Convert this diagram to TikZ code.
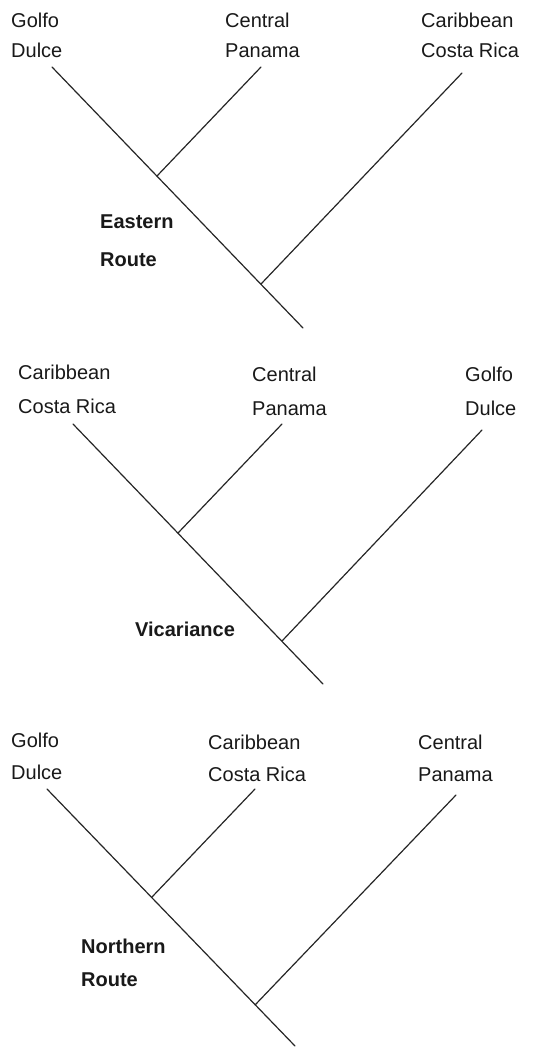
\documentclass[tikz,border=0pt]{standalone}
\usepackage{fontspec}
\setmainfont{Liberation Sans}
\begin{document}
\begin{tikzpicture}[x=1pt,y=-1pt,
  branch/.style={line width=1.2pt, draw=black!85, line cap=round},
  lab/.style={anchor=base west, inner sep=0pt, text=black!90, font=\fontsize{20}{24}\selectfont},
  routelab/.style={lab, font=\bfseries\fontsize{20}{24}\selectfont}]
\useasboundingbox[fill=white] (0,0) rectangle (546,1050);

% ---- Eastern Route ----
\coordinate (t1gd) at (52,67);
\coordinate (t1root) at (303,328);
\coordinate (t1n1) at (157,176);
\coordinate (t1n2) at (261,284);
\coordinate (t1cp) at (261,67);
\coordinate (t1cr) at (462,73);
\draw[branch] (t1gd) -- (t1root);
\draw[branch] (t1n1) -- (t1cp);
\draw[branch] (t1n2) -- (t1cr);
\node[lab] (t1l1) at (11,27) {Golfo};
\node[lab] (t1l2) at (11,57) {Dulce};
\node[lab] (t1l3) at (225,27) {Central};
\node[lab] (t1l4) at (225,57) {Panama};
\node[lab] (t1l5) at (421,27) {Caribbean};
\node[lab] (t1l6) at (421,57) {Costa Rica};
\node[routelab] (t1r1) at (100,228) {Eastern};
\node[routelab] (t1r2) at (100,266) {Route};

% ---- Vicariance ----
\coordinate (t2cr) at (73,424);
\coordinate (t2root) at (323,684);
\coordinate (t2n1) at (178,533);
\coordinate (t2n2) at (282,641);
\coordinate (t2cp) at (282,424);
\coordinate (t2gd) at (482,430);
\draw[branch] (t2cr) -- (t2root);
\draw[branch] (t2n1) -- (t2cp);
\draw[branch] (t2n2) -- (t2gd);
\node[lab] (t2l1) at (18,379) {Caribbean};
\node[lab] (t2l2) at (18,413) {Costa Rica};
\node[lab] (t2l3) at (252,381) {Central};
\node[lab] (t2l4) at (252,415) {Panama};
\node[lab] (t2l5) at (465,381) {Golfo};
\node[lab] (t2l6) at (465,415) {Dulce};
\node[routelab] (t2r1) at (135,636) {Vicariance};

% ---- Northern Route ----
\coordinate (t3gd) at (47,789);
\coordinate (t3root) at (295,1046);
\coordinate (t3n1) at (152,897);
\coordinate (t3n2) at (255,1005);
\coordinate (t3cr) at (255,789);
\coordinate (t3cp) at (456,795);
\draw[branch] (t3gd) -- (t3root);
\draw[branch] (t3n1) -- (t3cr);
\draw[branch] (t3n2) -- (t3cp);
\node[lab] (t3l1) at (11,747) {Golfo};
\node[lab] (t3l2) at (11,779) {Dulce};
\node[lab] (t3l3) at (208,749) {Caribbean};
\node[lab] (t3l4) at (208,781) {Costa Rica};
\node[lab] (t3l5) at (418,749) {Central};
\node[lab] (t3l6) at (418,781) {Panama};
\node[routelab] (t3r1) at (81,953) {Northern};
\node[routelab] (t3r2) at (81,986) {Route};
\end{tikzpicture}
\end{document}
